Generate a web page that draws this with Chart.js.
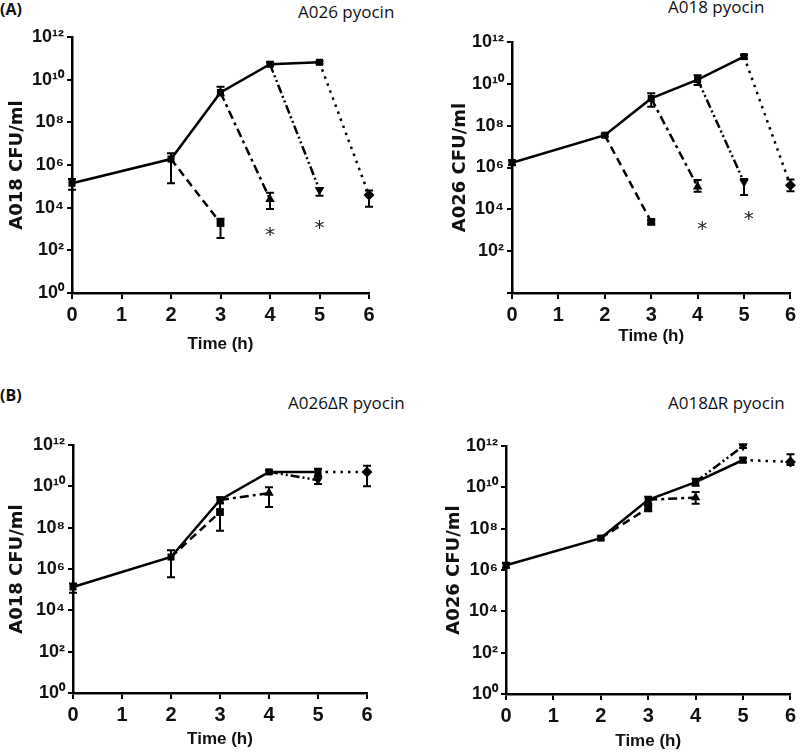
<!DOCTYPE html>
<html><head><meta charset="utf-8">
<script src="https://cdn.jsdelivr.net/npm/chart.js@4.4.1/dist/chart.umd.min.js"></script>
<style>
html,body{margin:0;padding:0;background:#fff;}
body{width:800px;height:756px;position:relative;overflow:hidden;}
.pn{position:absolute;}
.lab{position:absolute;white-space:nowrap;line-height:20px;height:20px;color:#111;font-family:'Open Sans','Liberation Sans',sans-serif;font-size:17px;}
.b{font-weight:bold;font-size:16px;}
</style></head><body>
<div class="lab b" style="left:0;top:-1px">(A)</div>
<div class="lab" style="left:298px;top:2px">A026 pyocin</div>
<div class="lab" style="left:668px;top:-3px">A018 pyocin</div>
<div class="lab b" style="left:0;top:385px">(B)</div>
<div class="lab" style="left:288px;top:393px">A026ΔR pyocin</div>
<div class="lab" style="left:668px;top:393px">A018ΔR pyocin</div>

<div class="pn" style="left:0;top:0;width:385px;height:360px"><canvas id="c1"></canvas></div>
<div class="pn" style="left:400px;top:0;width:400px;height:360px"><canvas id="c2"></canvas></div>
<div class="pn" style="left:0;top:400px;width:385px;height:356px"><canvas id="c3"></canvas></div>
<div class="pn" style="left:400px;top:400px;width:400px;height:356px"><canvas id="c4"></canvas></div>

<script>
// ---------- axes ----------
const xTickValues = [0, 1, 2, 3, 4, 5, 6];
const yTickValues = [1, 1e2, 1e4, 1e6, 1e8, 1e10, 1e12];
const yTickLabels = ['10⁰', '10²', '10⁴', '10⁶', '10⁸', '10¹⁰', '10¹²'];
const yTickLabelsNoZero = ['', '10²', '10⁴', '10⁶', '10⁸', '10¹⁰', '10¹²'];

// ---------- untreated growth (solid line), times ----------
const solidTimes = [0, 2, 3, 4, 5];
// treated curves: start times (each runs 1 h)
const treatStart = [2, 3, 4, 5];

// ---------- Panel A, left: A018 CFU/ml, A026 pyocin ----------
const a1Solid   = [1.4e5, 1.9e6, 2.5e9, 5.3e10, 6.5e10];
const a1SolidLo = [7e4,   1.4e5, 1.8e9, 4.5e10, 5.5e10];
const a1SolidHi = [2.2e5, 3.6e6, 4.6e9, 6.5e10, 7.5e10];
const a1TreatEnd   = [1.9e3, 2.5e4, 6.8e4, 3.9e4];
const a1TreatEndLo = [3.8e2, 8.7e3, 3.6e4, 1.1e4];
const a1TreatEndHi = [3.0e3, 5.0e4, 8.3e4, 6.3e4];
const a1StarT = [4, 5];
const a1StarV = [750, 1500];

// ---------- Panel A, right: A026 CFU/ml, A018 pyocin ----------
const a2Solid   = [1.7e6, 3.5e7, 2.0e9, 1.6e10, 2.0e11];
const a2SolidLo = [1.3e6, 3.0e7, 8.0e8, 8.7e9,  1.6e11];
const a2SolidHi = [2.2e6, 4.0e7, 3.5e9, 2.6e10, 2.4e11];
const a2TreatEnd   = [2.5e3, 1.2e5, 2.0e5, 1.4e5];
const a2TreatEndLo = [2.0e3, 7.0e4, 4.8e4, 7.4e4];
const a2TreatEndHi = [3.0e3, 2.5e5, 2.8e5, 2.7e5];
const a2StarT = [4.1, 5.1];
const a2StarV = [1.7e3, 4.7e3];

// ---------- Panel B, left: A018 CFU/ml, A026ΔR pyocin ----------
const b1Solid   = [1.35e5, 3.8e6, 2.2e9, 5.0e10, 5.0e10];
const b1SolidLo = [7e4,    4.0e5, 1.5e9, 4.0e10, 3.2e10];
const b1SolidHi = [2.0e5,  8.0e6, 3.0e9, 6.0e10, 7.0e10];
const b1TreatEnd   = [5.7e8, 4.7e9, 2.0e10, 5.0e10];
const b1TreatEndLo = [7.0e7, 1.0e9, 1.3e10, 1.0e10];
const b1TreatEndHi = [1.5e9, 9.0e9, 3.0e10, 1.0e11];

// ---------- Panel B, right: A026 CFU/ml, A018ΔR pyocin ----------
const b2Solid   = [1.7e6, 3.5e7, 2.5e9, 1.8e10, 2.1e11];
const b2SolidLo = [1.3e6, 3.0e7, 1.6e9, 1.2e10, 1.6e11];
const b2SolidHi = [2.2e6, 4.2e7, 3.5e9, 2.6e10, 2.6e11];
const b2TreatEnd   = [1.0e9, 3.2e9, 1.0e12, 1.7e11];
const b2TreatEndLo = [7.0e8, 1.6e9, 8.0e11, 1.2e11];
const b2TreatEndHi = [1.3e9, 6.0e9, 1.1e12, 4.0e11];

// ---------- styles ----------
const treatDash  = [[8, 5], [9, 4, 3, 4], [9, 3, 2, 3, 2, 3], [2.5, 5]];
const treatPoint = ['rect', 'triangle', 'triangle', 'rectRot'];
const treatRot   = [0, 0, 180, 0];

const errPlugin = {
  id: 'errbars',
  afterDatasetsDraw(chart, args, opts) {
    const ctx = chart.ctx, xs = chart.scales.x, ys = chart.scales.y;
    ctx.save();
    ctx.strokeStyle = '#000';
    ctx.lineWidth = 2;
    chart.data.datasets.forEach(ds => {
      if (!ds.err) return;
      ds.data.forEach((p, i) => {
        const e = ds.err[i];
        if (!e) return;
        const x = xs.getPixelForValue(p.x);
        const y1 = ys.getPixelForValue(e[0]);
        const y2 = ys.getPixelForValue(e[1]);
        ctx.beginPath();
        ctx.moveTo(x, y1); ctx.lineTo(x, y2);
        ctx.moveTo(x - 4, y1); ctx.lineTo(x + 4, y1);
        ctx.moveTo(x - 4, y2); ctx.lineTo(x + 4, y2);
        ctx.stroke();
      });
    });
    if (opts.starT) {
      ctx.fillStyle = '#222';
      ctx.font = '20px "DejaVu Sans", sans-serif';
      ctx.textAlign = 'center';
      ctx.textBaseline = 'middle';
      opts.starT.forEach((t, i) => {
        ctx.fillText('*', xs.getPixelForValue(t), ys.getPixelForValue(opts.starV[i]) + 4);
      });
    }
    ctx.restore();
  }
};

function makePanel(id, c) {
  const datasets = [{
    data: solidTimes.map((t, i) => ({x: t, y: c.solid[i]})),
    err: c.lo.map((l, i) => [l, c.hi[i]]),
    borderColor: '#000', backgroundColor: '#000', borderWidth: 2.5,
    pointStyle: 'rect', pointRadius: 5, pointBorderWidth: 0,
    clip: false
  }];
  treatStart.forEach((t0, k) => {
    const startVal = c.solid[solidTimes.indexOf(t0)];
    datasets.push({
      data: [{x: t0, y: startVal}, {x: t0 + 1, y: c.end[k]}],
      err: [null, [c.endLo[k], c.endHi[k]]],
      borderColor: '#000', backgroundColor: '#000', borderWidth: 2.5,
      borderDash: treatDash[k],
      pointStyle: treatPoint[k], rotation: treatRot[k],
      pointRadius: [0, 5.5], pointBorderWidth: 0,
      clip: false
    });
  });
  const tickFont = {family: "'Liberation Sans Narrow','Liberation Sans',Arial,sans-serif", weight: 'bold'};
  return new Chart(document.getElementById(id), {
    type: 'line',
    data: {datasets},
    options: {
      responsive: true, maintainAspectRatio: false, animation: false,
      devicePixelRatio: 1,
      layout: {autoPadding: false, padding: {top: c.padTop, right: c.padRight, left: 0, bottom: 0}},
      plugins: {legend: {display: false}, tooltip: {enabled: false},
        errbars: {starT: c.starT, starV: c.starV}},
      elements: {line: {tension: 0}},
      scales: {
        x: {
          type: 'linear', min: 0, max: 6,
          afterBuildTicks: s => { s.ticks = xTickValues.map(v => ({value: v})); },
          afterFit: s => { s.height = c.xH; },
          grid: {display: true, drawOnChartArea: false, drawTicks: true, tickLength: 6, color: '#000', lineWidth: 2},
          border: {display: true, color: '#000', width: 2.5},
          ticks: {color: '#111', font: {...tickFont, size: 20}, padding: 4, maxRotation: 0,
            callback: v => String(v)},
          title: {display: true, text: 'Time (h)', color: '#111',
            font: {family: "'Liberation Sans',Arial,sans-serif", weight: 'bold', size: 17},
            padding: {top: 0, bottom: c.xtPad}}
        },
        y: {
          type: 'logarithmic', min: 1, max: 1e12,
          afterBuildTicks: s => { s.ticks = yTickValues.map(v => ({value: v})); },
          afterFit: s => { s.width = c.yW; },
          grid: {display: true, drawOnChartArea: false, drawTicks: true, tickLength: 5, color: '#000', lineWidth: 2},
          border: {display: true, color: '#000', width: 2.5},
          ticks: {color: '#111', font: {...tickFont, size: 18}, padding: 3, autoSkip: false,
            callback: (v, i) => c.yLabels[i]},
          title: {display: true, text: c.yTitle, color: '#111',
            font: {family: "'DejaVu Sans',sans-serif", weight: 'bold', size: 18},
            padding: {top: c.ytPad, bottom: 0}}
        }
      }
    },
    plugins: [errPlugin]
  });
}

makePanel('c1', {solid: a1Solid, lo: a1SolidLo, hi: a1SolidHi,
  end: a1TreatEnd, endLo: a1TreatEndLo, endHi: a1TreatEndHi,
  starT: a1StarT, starV: a1StarV, yLabels: yTickLabels, yTitle: 'A018 CFU/ml',
  padTop: 37, padRight: 16, yW: 72, xH: 67, xtPad: 5, ytPad: 6.5});
makePanel('c2', {solid: a2Solid, lo: a2SolidLo, hi: a2SolidHi,
  end: a2TreatEnd, endLo: a2TreatEndLo, endHi: a2TreatEndHi,
  starT: a2StarT, starV: a2StarV, yLabels: yTickLabelsNoZero, yTitle: 'A026 CFU/ml',
  padTop: 42, padRight: 3, yW: 112, xH: 67, xtPad: 13, ytPad: 50});
makePanel('c3', {solid: b1Solid, lo: b1SolidLo, hi: b1SolidHi,
  end: b1TreatEnd, endLo: b1TreatEndLo, endHi: b1TreatEndHi,
  yLabels: yTickLabels, yTitle: 'A018 CFU/ml',
  padTop: 45, padRight: 18, yW: 73, xH: 63, xtPad: 6, ytPad: 6.5});
makePanel('c4', {solid: b2Solid, lo: b2SolidLo, hi: b2SolidHi,
  end: b2TreatEnd, endLo: b2TreatEndLo, endHi: b2TreatEndHi,
  yLabels: yTickLabels, yTitle: 'A026 CFU/ml',
  padTop: 46, padRight: 4, yW: 106, xH: 62, xtPad: 4, ytPad: 44});
</script>
</body></html>
